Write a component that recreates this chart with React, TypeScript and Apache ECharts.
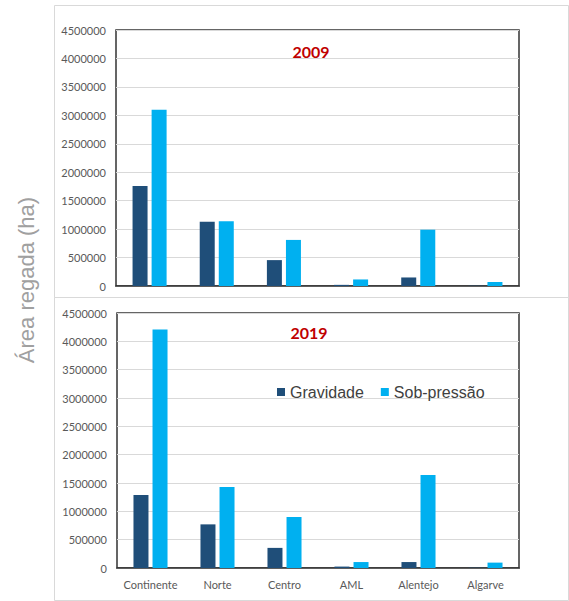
import React, { useEffect, useRef } from "react";
import * as echarts from "echarts";

const categories = ["Continente", "Norte", "Centro", "AML", "Alentejo", "Algarve"];
const grav2009 = [1760000, 1130000, 455000, 20000, 150000, 5000];
const sob2009 = [3100000, 1140000, 810000, 115000, 990000, 70000];
const grav2019 = [1290000, 770000, 355000, 25000, 105000, 5000];
const sob2019 = [4210000, 1430000, 900000, 105000, 1640000, 95000];
const seriesNames = ["Gravidade", "Sob-pressão"];
const years = ["2009", "2019"];

const DARK = "#1F4E79";
const LIGHT = "#00B0F0";
const LABEL_FONT = "Lato, 'Open Sans', sans-serif";

export default function App() {
  const ref = useRef<HTMLDivElement>(null);
  useEffect(() => {
    if (!ref.current) return;
    const chart = echarts.init(ref.current, undefined, { renderer: "svg" });
    const grids = [
      { left: 116, width: 403, top: 30, height: 256 },
      { left: 117, width: 402, top: 313, height: 255 },
    ];
    const yAxisCommon = (gi: number) => ({
      type: "value",
      gridIndex: gi,
      min: 0,
      max: 4500000,
      interval: 500000,
      axisLine: { show: false },
      axisTick: { show: false },
      axisLabel: {
        color: "#595959",
        fontSize: 11,
        fontFamily: LABEL_FONT,
        margin: 10,
        formatter: (v: number) => String(v),
      },
      splitLine: { lineStyle: { color: "#d9d9d9", width: 1 } },
    });
    const xAxisCommon = (gi: number, showLabels: boolean) => ({
      type: "category",
      gridIndex: gi,
      data: categories,
      axisLine: { show: true, lineStyle: { color: "#333", width: 1.5 } },
      axisTick: { show: false },
      axisLabel: {
        show: showLabels,
        interval: 0,
        color: "#595959",
        fontSize: 11,
        fontFamily: LABEL_FONT,
        margin: 11,
      },
    });
    const bar = (name: string, data: number[], gi: number, color: string) => ({
      type: "bar",
      name,
      data,
      xAxisIndex: gi,
      yAxisIndex: gi,
      barWidth: 15,
      barGap: "27%",
      itemStyle: { color },
    });
    chart.setOption({
      animation: false,
      backgroundColor: "#ffffff",
      grid: grids.map((g) => ({ ...g, show: true, borderColor: "#333", borderWidth: 1.5, backgroundColor: "transparent" })),
      xAxis: [xAxisCommon(0, false), xAxisCommon(1, true)],
      yAxis: [yAxisCommon(0), yAxisCommon(1)],
      legend: {
        data: seriesNames,
        left: 272,
        top: 379,
        icon: "rect",
        itemWidth: 8,
        itemHeight: 8,
        itemGap: 17,
        textStyle: { color: "#404040", fontSize: 16, fontFamily: "'Liberation Sans', Arial, sans-serif" },
      },
      title: [
        {
          text: years[0],
          left: 306,
          top: 38,
          textAlign: "center",
          textStyle: { color: "#C00000", fontSize: 16, fontWeight: "bold", fontFamily: LABEL_FONT },
        },
        {
          text: years[1],
          left: 304,
          top: 319,
          textAlign: "center",
          textStyle: { color: "#C00000", fontSize: 16, fontWeight: "bold", fontFamily: LABEL_FONT },
        },
      ],
      graphic: [
        {
          type: "rect",
          shape: { x: 54.5, y: 5.5, width: 514, height: 292 },
          style: { fill: "none", stroke: "#d9d9d9", lineWidth: 1 },
          silent: true,
        },
        {
          type: "rect",
          shape: { x: 54.5, y: 297.5, width: 514, height: 303 },
          style: { fill: "none", stroke: "#d9d9d9", lineWidth: 1 },
          silent: true,
        },
        {
          type: "text",
          x: 26,
          y: 280,
          rotation: Math.PI / 2,
          style: {
            text: "Área regada (ha)",
            fill: "#a0a0a0",
            fontSize: 22,
            fontFamily: "'Liberation Sans', Arial, sans-serif",
            textAlign: "center",
            textVerticalAlign: "middle",
          },
          silent: true,
        },
      ],
      series: [
        bar(seriesNames[0], grav2009, 0, DARK),
        bar(seriesNames[1], sob2009, 0, LIGHT),
        bar(seriesNames[0], grav2019, 1, DARK),
        bar(seriesNames[1], sob2019, 1, LIGHT),
      ],
    });
    return () => chart.dispose();
  }, []);
  return (
    <div
      ref={ref}
      style={{ position: "fixed", left: 0, top: 0, width: 569, height: 601 }}
    />
  );
}
